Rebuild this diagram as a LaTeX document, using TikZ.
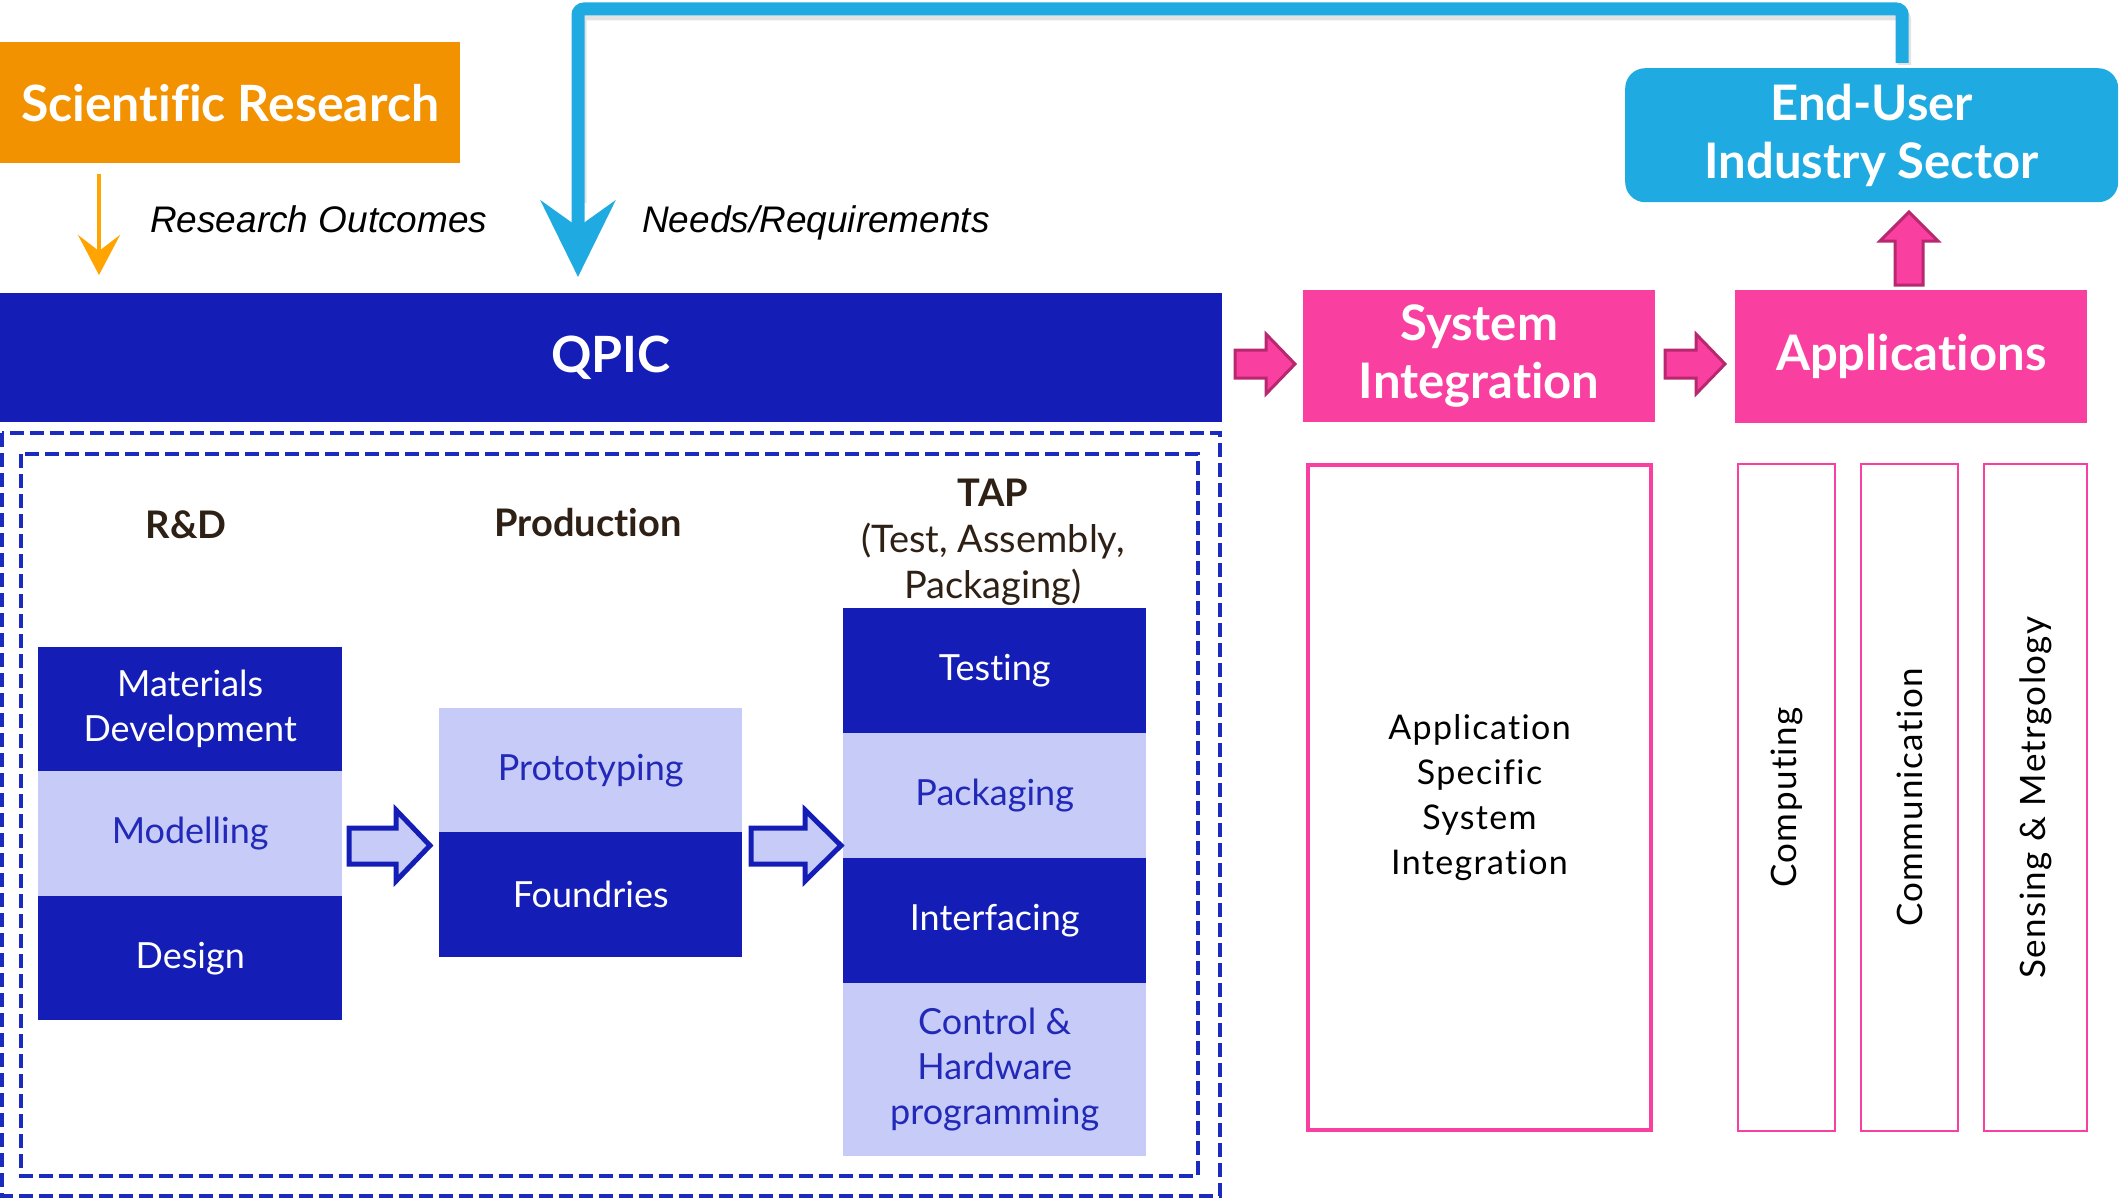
\documentclass[tikz,border=0pt]{standalone}
\usepackage{fontspec}
\setmainfont{Lato}[Ligatures=NoCommon]
\newfontfamily\ariafont{Liberation Sans}
\newfontfamily\spfont{Lato}[LetterSpace=4.0, Ligatures=NoCommon]
\usetikzlibrary{arrows.meta,calc}
\definecolor{qdark}{HTML}{141EB6}
\definecolor{qlight}{HTML}{C6CBF7}
\definecolor{qtxt}{HTML}{2229B8}
\definecolor{qpink}{HTML}{F93FA0}
\definecolor{qpinkd}{HTML}{B8286F}
\definecolor{qcyan}{HTML}{1FABE1}
\definecolor{qorange}{HTML}{F39200}
\definecolor{qorangearr}{HTML}{FFA400}
\definecolor{qbrown}{HTML}{2E2014}
\definecolor{qdash}{HTML}{1B2BC0}
\tikzset{
  hbox/.style={anchor=north west, inner sep=0pt, align=center, text=white,
    font=\fontsize{49}{58}\selectfont\bfseries},
  darkcell/.style={anchor=north west, inner sep=0pt, align=center, fill=qdark, text=white,
    minimum width=304pt, font=\fontsize{36}{45}\selectfont},
  lightcell/.style={anchor=north west, inner sep=0pt, align=center, fill=qlight, text=qtxt,
    minimum width=304pt, font=\fontsize{36}{45}\selectfont},
  lbl/.style={inner sep=0pt, align=center, text=qbrown, font=\fontsize{38}{46}\selectfont},
  itlbl/.style={inner sep=0pt, anchor=base west, font=\ariafont\itshape\fontsize{37}{40}\selectfont},
  dashbox/.style={draw=qdash, line width=4pt, dash pattern=on 14pt off 6pt},
  pinkline/.style={draw=qpink, line width=2pt},
  vtext/.style={rotate=90, inner sep=0pt, font=\spfont\fontsize{35}{40}\selectfont},
  pinkarr/.style={fill=qpink, draw=qpinkd, line width=3pt, line join=miter},
  bluearr/.style={fill=qlight, draw=qdark, line width=5pt, line join=miter},
}
\begin{document}
\begin{tikzpicture}[x=1pt,y=-1pt]
\useasboundingbox (0,0) rectangle (2121,1199);

% header boxes
\node[hbox, fill=qorange, minimum width=460pt, minimum height=121pt, font=\fontsize{50}{58}\selectfont\bfseries] (sr) at (0,42) {Scientific Research};
\node[hbox, fill=qcyan, minimum width=493pt, minimum height=134pt, rounded corners=20pt] (eu) at (1625,68) {End-User\\Industry Sector};
\node[hbox, fill=qdark, minimum width=1222pt, minimum height=129pt, font=\fontsize{50}{54}\selectfont\bfseries] (qpic) at (0,293) {QPIC};
\node[hbox, fill=qpink, minimum width=352pt, minimum height=132pt] (si) at (1303,290) {System\\Integration};
\node[hbox, fill=qpink, minimum width=352pt, minimum height=133pt] (app) at (1735,290) {Applications};

% orange arrow
\draw[qorangearr, line width=4pt, -{Stealth[length=40pt, width=42pt, inset=16pt]}]
  ([xshift=99pt, yshift=-11pt]sr.south west) -- ([xshift=99pt, yshift=18pt]qpic.north west);
\node[itlbl] (ro) at (150,232) {Research Outcomes};

% blue feedback arrow
\coordinate (bend) at (578,9);
\draw[black!18, line width=13pt, rounded corners=6pt, opacity=0.6]
  ([xshift=33pt, yshift=3pt]eu.north) |- ([xshift=2pt, yshift=-5pt]bend) -- ([xshift=580pt, yshift=90pt]qpic.north west);
\draw[qcyan, line width=13pt, rounded corners=6pt, -{Stealth[length=76pt, width=74pt, inset=26pt]}]
  ([xshift=30.5pt, yshift=5pt]eu.north) |- (bend) -- ([xshift=578pt, yshift=16pt]qpic.north west);
\node[itlbl] (nr) at (642,232) {Needs/Requirements};

% pink block arrows
\draw[pinkarr] (1235,350) -- (1266,350) -- (1266,334) -- (1295,364) -- (1266,394) -- (1266,378) -- (1235,378) -- cycle;
\draw[pinkarr] (1665,350) -- (1696,350) -- (1696,334) -- (1725,364) -- (1696,394) -- (1696,378) -- (1665,378) -- cycle;
\draw[pinkarr] (1895,285) -- (1895,241) -- (1880,241) -- (1909,212) -- (1938,241) -- (1923,241) -- (1923,285) -- cycle;

% dashed frames
\draw[dashbox] (2,433) rectangle (1220,1196);
\draw[dashbox] (21,454) rectangle (1198,1176);

% column labels
\node[lbl, font=\fontsize{38}{46}\selectfont\bfseries] (rd) at (186,525) {R\&D};
\node[lbl, font=\fontsize{38}{46}\selectfont\bfseries] (prodl) at (588,523) {Production};
\node[lbl] (tapl) at (993,542) {\textbf{TAP}\\(Test, Assembly,\\Packaging)};

% R&D column
\node[darkcell, minimum height=124pt] (md) at (38,647) {Materials\\Development};
\node[lightcell, minimum height=125pt] (mod) at (38,771) {Modelling};
\node[darkcell, minimum height=124pt] (des) at (38,896) {Design};

% Production column
\node[lightcell, minimum width=303pt, minimum height=124pt] (proto) at (439,708) {Prototyping};
\node[darkcell, minimum width=303pt, minimum height=125pt] (found) at (439,832) {Foundries};

% TAP column
\node[darkcell, minimum width=303pt, minimum height=125pt] (test) at (843,608) {Testing};
\node[lightcell, minimum width=303pt, minimum height=125pt] (pack) at (843,733) {Packaging};
\node[darkcell, minimum width=303pt, minimum height=125pt] (inter) at (843,858) {Interfacing};
\node[lightcell, minimum width=303pt, minimum height=173pt] (ctrl) at (843,983) {Control \&\\Hardware\\programming};

% hollow blue arrows
\draw[bluearr] (349,828) -- (396,828) -- (396,810) -- (430,845.5) -- (396,881) -- (396,864) -- (349,864) -- cycle;
\draw[bluearr] (751,828) -- (805,828) -- (805,810) -- (841,845.5) -- (805,881) -- (805,864) -- (751,864) -- cycle;

% right side
\node[draw=qpink, line width=4pt, minimum width=343pt, minimum height=665pt, inner sep=0pt,
  align=center, font=\spfont\fontsize{34}{45}\selectfont] (assi) at (1479.5,797.5)
  {Application\\Specific\\System\\Integration};
\node[pinkline, minimum width=97pt, minimum height=667pt, inner sep=0pt] (comp) at (1786.5,797.5) {};
\node[pinkline, minimum width=97pt, minimum height=667pt, inner sep=0pt] (comm) at (1909.5,797.5) {};
\node[pinkline, minimum width=103pt, minimum height=667pt, inner sep=0pt] (sens) at (2035.5,797.5) {};
\node[vtext] at (comp.center) {Computing};
\node[vtext] at (comm.center) {Communication};
\node[vtext] at (sens.center) {Sensing \& Metrgology};
\end{tikzpicture}
\end{document}
